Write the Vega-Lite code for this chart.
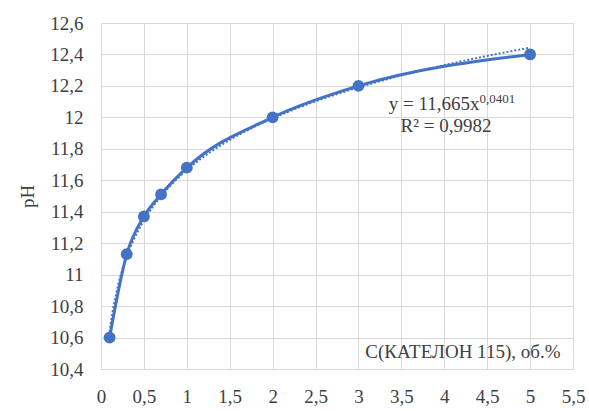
{
  "$schema": "https://vega.github.io/schema/vega-lite/v6.json",
  "width": 589,
  "height": 411,
  "autosize": {"type": "fit", "contains": "padding"},
  "padding": {"left": 18, "top": 14, "right": 4, "bottom": 5},
  "background": "white",
  "config": {
    "font": "Liberation Serif",
    "locale": {"number": {"decimal": ",", "thousands": " ", "grouping": [3], "currency": ["", ""]}},
    "view": {"stroke": "#d9d9d9"},
    "axis": {
      "domain": false,
      "ticks": false,
      "gridColor": "#d9d9d9",
      "gridWidth": 1,
      "labelFont": "Liberation Serif",
      "labelFontSize": 19,
      "labelColor": "#404040",
      "labelOverlap": false,
      "labelFlush": false,
      "titleFont": "Liberation Serif",
      "titleFontSize": 19,
      "titleFontWeight": "normal",
      "titleColor": "#404040"
    }
  },
  "datasets": {
    "points": [
      {"c": 0.1, "pH": 10.6},
      {"c": 0.3, "pH": 11.13},
      {"c": 0.5, "pH": 11.37},
      {"c": 0.7, "pH": 11.51},
      {"c": 1, "pH": 11.68},
      {"c": 2, "pH": 12.0},
      {"c": 3, "pH": 12.2},
      {"c": 5, "pH": 12.4}
    ]
  },
  "layer": [
    {
      "data": {"name": "points"},
      "transform": [{"regression": "pH", "on": "c", "method": "pow", "extent": [0.1, 5]}],
      "mark": {"type": "line", "strokeDash": [2, 2], "strokeWidth": 2, "color": "#4472C4"},
      "encoding": {
        "x": {
          "field": "c", "type": "quantitative",
          "scale": {"domain": [0, 5.5], "nice": false, "zero": false},
          "axis": {
            "values": [0, 0.5, 1, 1.5, 2, 2.5, 3, 3.5, 4, 4.5, 5, 5.5],
            "tickCount": 30,
            "format": ".1~f",
            "labelPadding": 18,
            "title": "С(КАТЕЛОН 115), об.%",
            "titleAnchor": "end",
            "titleAlign": "right",
            "titleBaseline": "middle",
            "titleX": 459,
            "titleY": -18
          }
        },
        "y": {
          "field": "pH", "type": "quantitative",
          "scale": {"domain": [10.4, 12.6], "nice": false, "zero": false},
          "axis": {
            "values": [10.4, 10.6, 10.8, 11, 11.2, 11.4, 11.6, 11.8, 12, 12.2, 12.4, 12.6],
            "tickCount": 30,
            "format": ".1~f",
            "labelPadding": 18,
            "title": "pH",
            "titlePadding": 12
          }
        }
      }
    },
    {
      "data": {"name": "points"},
      "mark": {
        "type": "line",
        "interpolate": "monotone",
        "strokeWidth": 3,
        "color": "#4472C4",
        "point": {"size": 140, "filled": true, "opacity": 1, "color": "#4472C4"}
      },
      "encoding": {
        "x": {"field": "c", "type": "quantitative"},
        "y": {"field": "pH", "type": "quantitative"}
      }
    },
    {
      "data": {"values": [{"c": 4.41, "pH": 12.085, "t": "y = 11,665x"}]},
      "mark": {"type": "text", "align": "right", "baseline": "middle", "fontSize": 19, "color": "#404040"},
      "encoding": {
        "x": {"field": "c", "type": "quantitative"},
        "y": {"field": "pH", "type": "quantitative"},
        "text": {"field": "t"}
      }
    },
    {
      "data": {"values": [{"c": 4.41, "pH": 12.115, "t": "0,0401"}]},
      "mark": {"type": "text", "align": "left", "baseline": "middle", "fontSize": 13, "color": "#404040"},
      "encoding": {
        "x": {"field": "c", "type": "quantitative"},
        "y": {"field": "pH", "type": "quantitative"},
        "text": {"field": "t"}
      }
    },
    {
      "data": {"values": [{"c": 4.02, "pH": 11.945, "t": "R² = 0,9982"}]},
      "mark": {"type": "text", "align": "center", "baseline": "middle", "fontSize": 19, "color": "#404040"},
      "encoding": {
        "x": {"field": "c", "type": "quantitative"},
        "y": {"field": "pH", "type": "quantitative"},
        "text": {"field": "t"}
      }
    }
  ]
}
